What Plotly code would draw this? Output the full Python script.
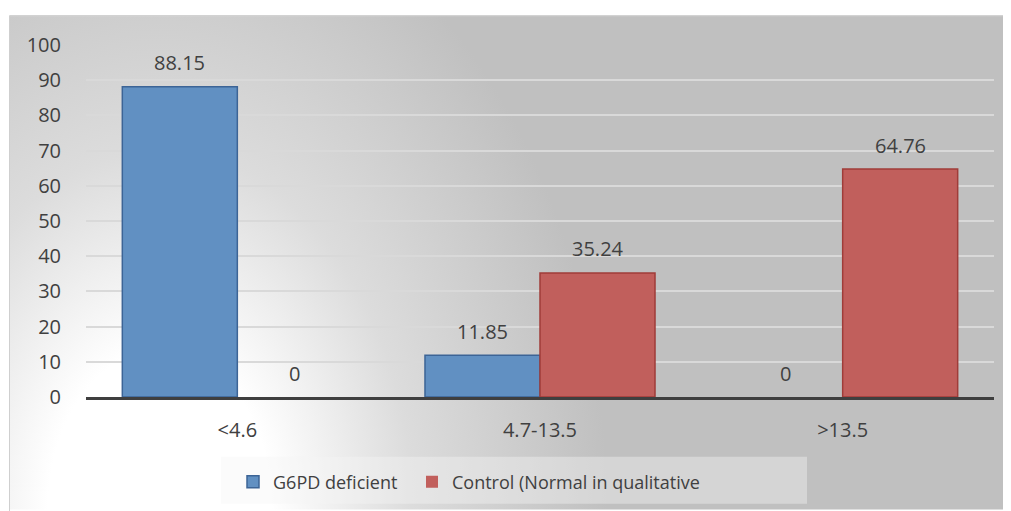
import base64
import plotly.graph_objects as go

categories = ["<4.6", "4.7-13.5", ">13.5"]
g6pd_deficient = [88.15, 11.85, 0]
control_normal = [0, 35.24, 64.76]
series_names = ["G6PD deficient", "Control (Normal in qualitative"]
y_ticks = [0, 10, 20, 30, 40, 50, 60, 70, 80, 90, 100]

# page is offset by the default 8px body margin
OFF = 8
W, H = 1011 - OFF, 511 - OFF
PL, PR, PT, PB = 86, 994, 45, 398          # plot area in page pixels
L, T = PL - OFF, PT - OFF
pw, ph = PR - PL, PB - PT
R, B = W - L - pw, H - T - ph


def px_x(px):
    return (px - PL) / pw


def px_y(py):
    return (PB - py) / ph


FONT = "Open Sans"
TXT = "#404040"

svg = '''<svg xmlns="http://www.w3.org/2000/svg" width="1002" height="496" viewBox="0 0 1002 496" preserveAspectRatio="none">
<defs><radialGradient id="g" gradientUnits="userSpaceOnUse" cx="0" cy="0" r="1"
 gradientTransform="translate(150,496) scale(560,800)">
<stop offset="0" stop-color="#ffffff"/>
<stop offset="0.2" stop-color="#ffffff"/>
<stop offset="0.45" stop-color="#dcdcdc"/>
<stop offset="0.8" stop-color="#c0c0c0"/>
<stop offset="1" stop-color="#c0c0c0"/>
</radialGradient></defs>
<rect x="0" y="0" width="1002" height="496" fill="url(#g)"/>
</svg>'''
src = "data:image/svg+xml;base64," + base64.b64encode(svg.encode()).decode()

fig = go.Figure()
fig.add_trace(go.Bar(
    x=categories, y=g6pd_deficient, name=series_names[0], legend="legend",
    marker=dict(color="#6190c2",
                line=dict(color="#3c6496", width=[1.5 if v else 0 for v in g6pd_deficient])),
))
fig.add_trace(go.Bar(
    x=categories, y=control_normal, name=series_names[1], legend="legend2",
    marker=dict(color="#c15f5c",
                line=dict(color="#a03c39", width=[1.5 if v else 0 for v in control_normal])),
))

annotations = []
for vals, shift in ((g6pd_deficient, -57.5), (control_normal, 57.5)):
    for c, v in zip(categories, vals):
        annotations.append(dict(
            x=c, y=v, xref="x", yref="y", text=f"{v:g}", showarrow=False,
            xshift=shift, yshift=24, yanchor="middle",
            font=dict(family=FONT, size=20, color=TXT),
        ))

legend_style = dict(
    orientation="h", xanchor="left", y=px_y(482), yanchor="middle",
    bgcolor="rgba(0,0,0,0)", font=dict(family=FONT, size=18, color=TXT),
)

fig.update_layout(
    width=W, height=H,
    margin=dict(l=L, r=R, t=T, b=B, pad=0),
    paper_bgcolor="white",
    plot_bgcolor="rgba(0,0,0,0)",
    barmode="group", bargap=0.24, bargroupgap=0,
    font=dict(family=FONT, size=20, color=TXT),
    showlegend=True,
    legend=dict(x=px_x(233), **legend_style),
    legend2=dict(x=px_x(412), **legend_style),
    annotations=annotations,
    images=[dict(
        source=src, xref="paper", yref="paper",
        x=px_x(10), y=px_y(16), sizex=(1011 - 10) / pw, sizey=(511 - 16) / ph,
        xanchor="left", yanchor="top", sizing="stretch", layer="below",
    )],
    shapes=[
        dict(type="rect", xref="paper", yref="paper",
             x0=px_x(221), x1=px_x(807), y0=px_y(505), y1=px_y(458),
             fillcolor="rgba(245,245,245,0.4)", line=dict(width=0), layer="below"),
        dict(type="rect", xref="paper", yref="paper",
             x0=px_x(9.5), x1=px_x(1020), y0=px_y(525), y1=px_y(15.5),
             fillcolor="rgba(0,0,0,0)", line=dict(color="#cfcfcf", width=1), layer="below"),
    ],
)
fig.update_xaxes(
    showline=True, linecolor="#3f3f3f", linewidth=3, ticks="",
    ticklabelstandoff=13, showgrid=False, zeroline=False,
    tickfont=dict(family=FONT, size=20, color=TXT),
)
fig.update_yaxes(
    range=[0, 100], tickvals=y_ticks, showgrid=True, gridcolor="#d9d9d9",
    gridwidth=1.5, zeroline=False, showline=False, ticks="", ticklabelstandoff=24,
    tickfont=dict(family=FONT, size=20, color=TXT),
)
fig.write_html("out.html")
